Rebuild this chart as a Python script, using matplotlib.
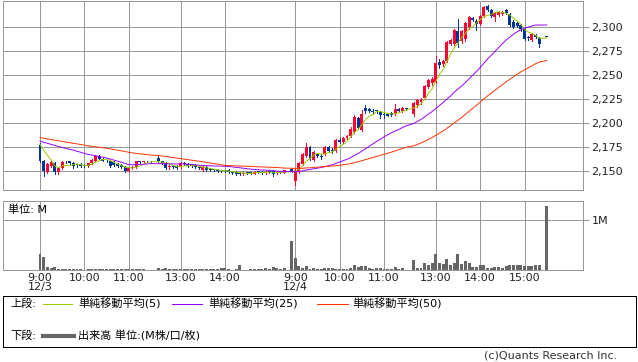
import matplotlib
matplotlib.use('Agg')
import matplotlib.pyplot as plt
import numpy as np

plt.rcParams['font.family'] = ['DejaVu Sans', 'Noto Sans CJK JP']
plt.rcParams['font.size'] = 8

days = ['12/3', '12/4']

# 5分足 OHLC (12/3, 12/4)
open_ = [2177, 2161, 2149, 2155, 2158, 2149, 2153, 2159, 2160, 2158, 2156, 2157, 2156, 2155, 2158, 2161,
         2166, 2163, 2161, 2160, 2159, 2157, 2156, 2154, 2150, 2153, 2154, 2160, 2159, 2160, 2160,
         2164, 2160, 2158, 2154, 2155, 2155, 2154, 2158, 2157, 2156, 2156, 2154, 2151, 2154, 2152, 2151,
         2151, 2150, 2150, 2151, 2149, 2149, 2148, 2147, 2148, 2148, 2147, 2149, 2149, 2148, 2149, 2150,
         2148, 2149, 2148, 2152,
         2140, 2149, 2157, 2166, 2175, 2162, 2168, 2165, 2168, 2175, 2172, 2171, 2182, 2180, 2184, 2187,
         2191, 2205, 2193, 2216, 2215, 2213, 2213, 2212, 2209, 2210, 2211, 2210, 2215, 2213, 2215,
         2210, 2219, 2222, 2226, 2238, 2242, 2243, 2264, 2262, 2265, 2283, 2283, 2296, 2286, 2288, 2300,
         2310, 2307, 2304, 2312, 2322, 2318, 2311, 2313, 2314, 2318, 2314, 2306, 2305, 2303, 2298, 2289,
         2287, 2292, 2289, 2290]
high = [2179, 2162, 2158, 2160, 2159, 2154, 2160, 2161, 2161, 2159, 2157, 2158, 2157, 2158, 2163, 2167,
        2167, 2164, 2162, 2161, 2160, 2158, 2157, 2155, 2154, 2155, 2161, 2161, 2161, 2161, 2161,
        2166, 2161, 2159, 2156, 2156, 2156, 2159, 2159, 2158, 2157, 2157, 2155, 2155, 2155, 2153, 2152,
        2152, 2151, 2151, 2152, 2150, 2150, 2149, 2149, 2149, 2149, 2150, 2150, 2150, 2150, 2150, 2151,
        2150, 2150, 2151, 2153,
        2152, 2159, 2169, 2179, 2176, 2171, 2169, 2168, 2176, 2176, 2174, 2183, 2184, 2186, 2188, 2196,
        2209, 2206, 2214, 2219, 2216, 2215, 2214, 2213, 2212, 2211, 2212, 2220, 2216, 2217, 2216,
        2222, 2225, 2226, 2240, 2246, 2248, 2270, 2267, 2266, 2286, 2288, 2298, 2309, 2297, 2306, 2312,
        2311, 2309, 2313, 2322, 2323, 2319, 2316, 2317, 2317, 2319, 2315, 2308, 2306, 2304, 2299, 2291,
        2294, 2293, 2290, 2290]
low = [2159, 2145, 2148, 2154, 2147, 2147, 2152, 2158, 2157, 2153, 2154, 2154, 2154, 2154, 2157, 2160,
       2162, 2160, 2159, 2154, 2155, 2154, 2153, 2149, 2149, 2152, 2153, 2158, 2158, 2159, 2159,
       2159, 2157, 2152, 2152, 2153, 2152, 2153, 2156, 2154, 2154, 2153, 2152, 2150, 2150, 2150, 2150,
       2149, 2149, 2149, 2148, 2147, 2146, 2146, 2146, 2147, 2147, 2147, 2148, 2147, 2147, 2148, 2145,
       2147, 2148, 2148, 2149,
       2135, 2148, 2156, 2165, 2162, 2160, 2165, 2163, 2167, 2170, 2169, 2170, 2179, 2179, 2183, 2186,
       2190, 2194, 2192, 2211, 2212, 2210, 2211, 2205, 2205, 2207, 2208, 2209, 2212, 2212, 2214,
       2208, 2217, 2220, 2225, 2237, 2240, 2242, 2258, 2260, 2264, 2282, 2282, 2280, 2284, 2286, 2298,
       2307, 2297, 2303, 2311, 2317, 2311, 2307, 2312, 2313, 2314, 2301, 2299, 2300, 2296, 2287, 2287,
       2286, 2289, 2280, 2290]
close = [2161, 2150, 2157, 2159, 2149, 2153, 2159, 2159, 2158, 2155, 2156, 2155, 2155, 2158, 2162, 2166,
         2163, 2161, 2160, 2155, 2156, 2155, 2154, 2150, 2153, 2154, 2160, 2159, 2160, 2160, 2160,
         2160, 2158, 2153, 2155, 2154, 2153, 2158, 2157, 2155, 2155, 2154, 2153, 2154, 2151, 2151, 2151,
         2150, 2150, 2150, 2149, 2148, 2147, 2147, 2148, 2148, 2148, 2149, 2149, 2148, 2149, 2149, 2147,
         2149, 2149, 2151, 2150,
         2151, 2158, 2168, 2175, 2163, 2170, 2166, 2165, 2175, 2171, 2171, 2182, 2180, 2185, 2187, 2194,
         2206, 2195, 2210, 2213, 2213, 2212, 2213, 2209, 2209, 2208, 2209, 2215, 2213, 2216, 2215,
         2221, 2224, 2225, 2239, 2245, 2246, 2263, 2261, 2265, 2285, 2287, 2297, 2284, 2296, 2305, 2311,
         2308, 2304, 2312, 2321, 2318, 2312, 2315, 2316, 2316, 2315, 2302, 2300, 2301, 2298, 2288, 2289,
         2293, 2290, 2283, 2290]

# 出来高 (M株)
volume = [0.32, 0.27, 0.067, 0.033, 0.067, 0.027, 0.02, 0.027, 0.027, 0.013, 0.02, 0.013, 0.007, 0.02,
          0.027, 0.027, 0.02, 0.013, 0.013, 0.027, 0.027, 0.013, 0.02, 0.027, 0.02, 0.013, 0.02, 0.013,
          0.013, 0.007, 0.007,
          0.04, 0.027, 0.04, 0.027, 0.02, 0.013, 0.013, 0.02, 0.027, 0.02, 0.013, 0.02, 0.027, 0.02,
          0.013, 0.02, 0.027, 0.04, 0.033, 0.013, 0.007, 0.013, 0.1, 0.007, 0.007, 0.013, 0.02, 0.013,
          0.027, 0.033, 0.02, 0.06, 0.04, 0.027, 0.033, 0.58,
          0.25, 0.087, 0.047, 0.08, 0.027, 0.04, 0.027, 0.027, 0.04, 0.04, 0.033, 0.027, 0.027, 0.02,
          0.027, 0.04, 0.1, 0.06, 0.073, 0.08, 0.033, 0.027, 0.033, 0.04, 0.02, 0.02, 0.02, 0.053,
          0.027, 0.04, 0.007,
          0.2, 0.047, 0.033, 0.14, 0.107, 0.14, 0.32, 0.14, 0.12, 0.22, 0.093, 0.14, 0.32, 0.12, 0.173,
          0.14, 0.06, 0.06, 0.1, 0.1, 0.04, 0.04, 0.053, 0.053, 0.047, 0.087, 0.093, 0.093, 0.093,
          0.093, 0.08, 0.08, 0.08, 0.093, 0.1, 1.28]

# 前営業日の終値 (移動平均の計算用、表示範囲外)
prev_close = [2189, 2190, 2188, 2187, 2189, 2191, 2190, 2188, 2186, 2187, 2189, 2190, 2191, 2189, 2188,
              2187, 2188, 2190, 2189, 2187, 2186, 2188, 2189, 2190, 2188,
              2184, 2183, 2182, 2181, 2183, 2184, 2182, 2181, 2180, 2182, 2183, 2184, 2183, 2181,
              2182, 2183, 2181, 2180, 2182, 2184, 2183, 2182, 2182, 2182]

tick_labels = [(0, '9:00'), (0, '10:00'), (0, '11:00'), (0, '13:00'), (0, '14:00'),
               (1, '9:00'), (1, '10:00'), (1, '11:00'), (1, '13:00'), (1, '14:00'), (1, '15:00')]


def minutes(s):
    h, m = s.split(':')
    return int(h) * 60 + int(m)


def slot_of(day, m):
    # 前場 9:00-11:30, 後場 12:30-15:30 を詰めて並べる
    if m <= 690:
        pos = (m - 540) // 5
    else:
        pos = 32 + (m - 750) // 5
    return day * 69 + pos


bar_min = list(range(540, 691, 5)) + list(range(750, 921, 5)) + [930]
x = np.array([slot_of(d, m) for d in range(2) for m in bar_min])

o = np.array(open_); h = np.array(high); l = np.array(low); c = np.array(close)
allc = np.array(prev_close + close, dtype=float)
n0 = len(prev_close)


def sma(n):
    return np.array([allc[i - n + 1:i + 1].mean() for i in range(n0, len(allc))])


RED = '#ff0033'
BLUE = '#003399'
GRID = '#999999'
PX = 0.72  # 1 pixel

fig = plt.figure(figsize=(6.38, 3.62), dpi=100)
ax1 = fig.add_axes([3 / 638, 1 - 190 / 362, 580 / 638, 189.5 / 362])
ax2 = fig.add_axes([3 / 638, 1 - 270 / 362, 580 / 638, 69 / 362])

ticks = [slot_of(d, minutes(t)) for d, t in tick_labels]
labels = []
seen = set()
for d, t in tick_labels:
    if d not in seen:
        labels.append(t + '\n' + days[d])
        seen.add(d)
    else:
        labels.append(t)

# candles
up = c > o
col = np.where(up, RED, BLUE)
ax1.vlines(x, l, h, colors=col, linewidth=PX, zorder=3, antialiased=False)
body_lo = np.minimum(o, c)
body_h = np.maximum(np.abs(c - o), 0.9)
ax1.bar(x, body_h, bottom=body_lo, width=0.8, color=col, linewidth=0, zorder=3)

ax1.plot(x, sma(5), color='#99cc00', linewidth=0.7, zorder=4)
ax1.plot(x, sma(25), color='#9900ff', linewidth=0.7, zorder=4)
ax1.plot(x, sma(50), color='#ff3300', linewidth=0.7, zorder=4)

ax1.set_xlim(-10, 146.8)
ax1.set_ylim(2130.2, 2328.1)
ax1.set_yticks([2150, 2175, 2200, 2225, 2250, 2275, 2300])
ax1.set_yticklabels(['{:,}'.format(v) for v in [2150, 2175, 2200, 2225, 2250, 2275, 2300]])
ax1.yaxis.tick_right()
ax1.set_xticks(ticks)
ax1.set_xticklabels([])
ax1.tick_params(axis='x', length=0)
ax1.tick_params(axis='y', length=4, width=PX, color=GRID, pad=2, labelsize=8, labelcolor='#222222')
ax1.grid(color=GRID, linewidth=PX, antialiased=False)
ax1.set_axisbelow(True)

# volume
ax2.bar(x, volume, width=0.8, color='#666666', linewidth=0, zorder=3)
ax2.set_xlim(-10, 146.8)
ax2.set_ylim(0, 1.38)
ax2.set_yticks([1])
ax2.set_yticklabels(['1M'])
ax2.yaxis.tick_right()
ax2.set_xticks(ticks)
ax2.set_xticklabels(labels, linespacing=0.95)
ax2.tick_params(axis='x', length=0, pad=2, labelsize=8, labelcolor='#222222')
ax2.tick_params(axis='y', length=4, width=PX, color=GRID, pad=2, labelsize=8, labelcolor='#222222')
ax2.grid(color=GRID, linewidth=PX, antialiased=False)
ax2.set_axisbelow(True)
ax2.text(0.009, 0.88, '単位: M', transform=ax2.transAxes, fontsize=8, va='center', ha='left')

for ax in (ax1, ax2):
    for s in ax.spines.values():
        s.set_color(GRID)
        s.set_linewidth(PX)

# legend box
lax = fig.add_axes([3 / 638, 1 - 347 / 362, 633 / 638, 51 / 362])
lax.set_xlim(3, 636)
lax.set_ylim(347, 296)
lax.set_xticks([])
lax.set_yticks([])
for s in lax.spines.values():
    s.set_color('black')
    s.set_linewidth(PX)

lax.text(10, 304, '上段:', va='center', ha='left', fontsize=8)
lax.plot([43, 72], [304, 304], color='#99cc00', linewidth=PX, antialiased=False)
lax.text(78, 304, '単純移動平均(5)', va='center', ha='left', fontsize=8)
lax.plot([172, 202], [304, 304], color='#9900ff', linewidth=PX, antialiased=False)
lax.text(208, 304, '単純移動平均(25)', va='center', ha='left', fontsize=8)
lax.plot([317, 348], [304, 304], color='#ff3300', linewidth=PX, antialiased=False)
lax.text(352, 304, '単純移動平均(50)', va='center', ha='left', fontsize=8)
lax.text(10, 336, '下段:', va='center', ha='left', fontsize=8)
lax.plot([43, 74], [336, 336], color='#666666', linewidth=3)
lax.text(78, 336, '出来高 単位:(M株/口/枚)', va='center', ha='left', fontsize=8)

fig.text(617 / 638, 1 - 356 / 362, '(c)Quants Research Inc.', ha='right', va='center',
         fontsize=8, color='#333333')

fig.savefig('out.png', dpi=100)
